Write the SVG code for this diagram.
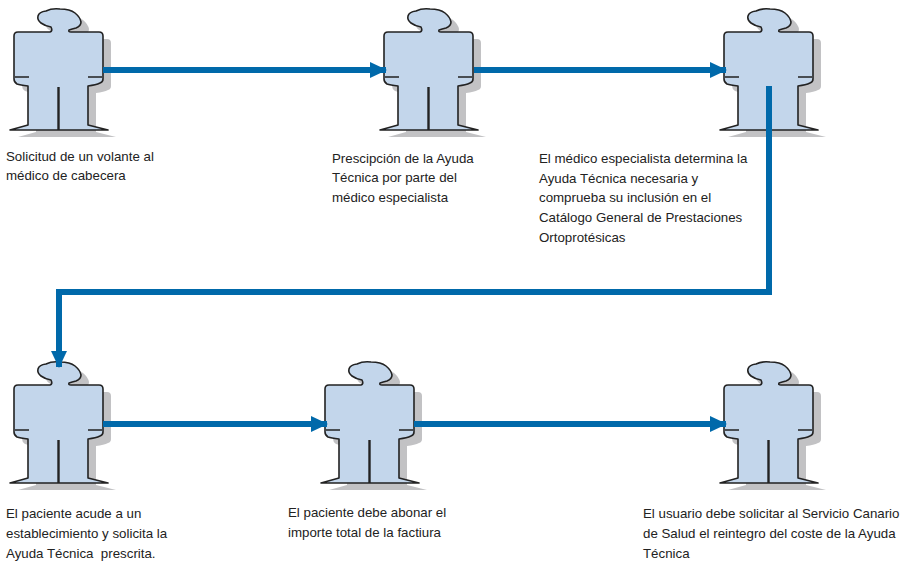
<svg xmlns="http://www.w3.org/2000/svg" xmlns:xlink="http://www.w3.org/1999/xlink" width="907" height="561" viewBox="0 0 907 561">
<style>
text{font-family:"Liberation Sans",Arial,sans-serif;font-size:13.3px;fill:#222}
.c{fill:none;stroke:#0069aa;stroke-width:6}
.b{fill:#c3d6eb;stroke:#222;stroke-width:1.6;stroke-linejoin:round}
.l{fill:none;stroke:#222;stroke-width:1.6}
.m{fill:none;stroke:#222;stroke-width:2.4}
.s{fill:#c2c2c4}
</style>
<defs>
<path id="o" d="M18 32H50Q53 31 51 27Q45 26 41 23Q37 20 38 16Q39 12 46 11Q52 8 60 9Q70 9 75 13Q80 17 81 22Q81 26 76 28Q72 29 69 30Q68 32 71 32H99Q103 32 103 36V79Q103 82 100 83Q96 85 88 86V125L108 130H10L28 125V86Q20 85 17 84Q14 82 14 79V36Q14 32 18 32Z"/>
<g id="fig">
<use href="#o" class="s" x="8" y="7"/>
<use href="#o" class="b"/>
<path class="l" d="M15 77H29M88 77H102"/>
<path class="m" d="M58.500 87V130"/>
</g>
<marker id="a" markerUnits="userSpaceOnUse" markerWidth="18" markerHeight="17" refX="16" refY="8" orient="auto"><path d="M0 0L17 8L0 16Z" fill="#0069aa"/></marker>
</defs>
<g id="node1"><use href="#fig"/><text x="6" y="161">Solicitud de un volante al</text><text x="6" y="180">médico de cabecera</text></g>
<g id="node2"><use href="#fig" x="370"/><text x="332" y="163">Prescipción de la Ayuda</text><text x="332" y="182">Técnica por parte del</text><text x="332" y="202">médico especialista</text></g>
<g id="node3"><use href="#fig" x="710"/><text x="539" y="163">El médico especialista determina la</text><text x="539" y="183">Ayuda Técnica necesaria y</text><text x="539" y="202">comprueba su inclusión en el</text><text x="539" y="222">Catálogo General de Prestaciones</text><text x="539" y="242">Ortoprotésicas</text></g>
<g id="node4"><use href="#fig" y="353"/><text x="6" y="518">El paciente acude a un</text><text x="6" y="538">establecimiento y solicita la</text><text x="6" y="558" xml:space="preserve">Ayuda Técnica  prescrita.</text></g>
<g id="node5"><use href="#fig" x="311" y="353"/><text x="288" y="517">El paciente debe abonar el</text><text x="288" y="537">importe total de la factiura</text></g>
<g id="node6"><use href="#fig" x="710" y="353"/><text x="643" y="518">El usuario debe solicitar al Servicio Canario</text><text x="643" y="538">de Salud el reintegro del coste de la Ayuda</text><text x="643" y="558">Técnica</text></g>
<g id="connectors">
<path class="c" d="M103 70H386" marker-end="url(#a)"/>
<path class="c" d="M474 70H726" marker-end="url(#a)"/>
<path class="c" d="M769 86V292H59V367" marker-end="url(#a)"/>
<path class="c" d="M103 424H327" marker-end="url(#a)"/>
<path class="c" d="M414 424H726" marker-end="url(#a)"/>
</g>
</svg>
